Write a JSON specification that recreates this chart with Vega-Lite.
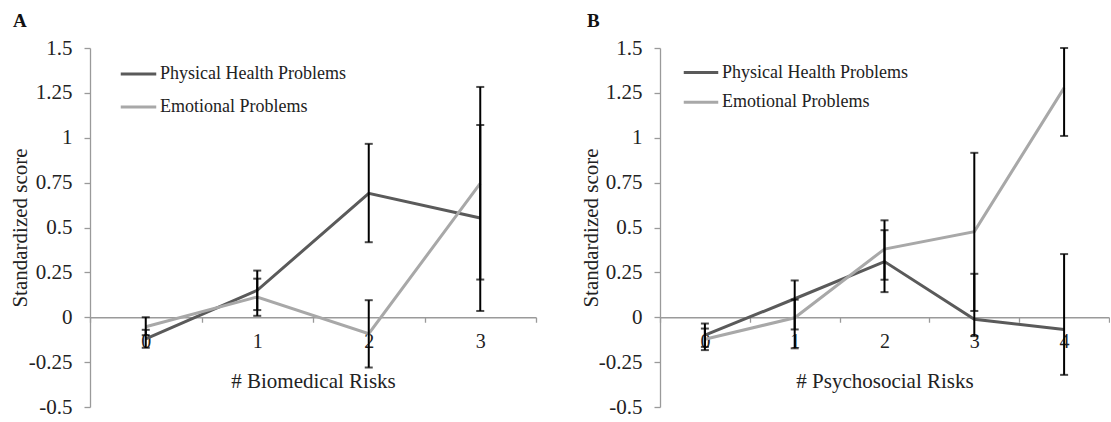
{
  "$schema": "https://vega.github.io/schema/vega-lite/v6.json",
  "background": "white",
  "padding": {"left": 9, "top": 12, "right": 0, "bottom": 5},
  "config": {
    "font": "Times New Roman, Liberation Serif, serif",
    "view": {"stroke": null},
    "axis": {"labelFont": "Times New Roman, Liberation Serif, serif", "titleFont": "Times New Roman, Liberation Serif, serif", "labelColor": "#222222", "titleColor": "#222222", "domainColor": "#9a9a9a", "tickColor": "#9a9a9a", "titleFontWeight": "normal", "grid": false, "domainWidth": 1.3, "tickWidth": 1.3},
    "legend": {"labelFont": "Times New Roman, Liberation Serif, serif", "labelColor": "#222222"}
  },
  "datasets": {
    "d": [
      {"panel": "A", "risk": 0, "series": "Physical Health Problems", "mean": -0.12, "lo": -0.17, "hi": -0.07},
      {"panel": "A", "risk": 1, "series": "Physical Health Problems", "mean": 0.15, "lo": 0.04, "hi": 0.26},
      {"panel": "A", "risk": 2, "series": "Physical Health Problems", "mean": 0.69, "lo": 0.418, "hi": 0.966},
      {"panel": "A", "risk": 3, "series": "Physical Health Problems", "mean": 0.553, "lo": 0.035, "hi": 1.071},
      {"panel": "A", "risk": 0, "series": "Emotional Problems", "mean": -0.053, "lo": -0.1, "hi": 0.0},
      {"panel": "A", "risk": 1, "series": "Emotional Problems", "mean": 0.113, "lo": 0.008, "hi": 0.215},
      {"panel": "A", "risk": 2, "series": "Emotional Problems", "mean": -0.092, "lo": -0.28, "hi": 0.095},
      {"panel": "A", "risk": 3, "series": "Emotional Problems", "mean": 0.746, "lo": 0.21, "hi": 1.283},
      {"panel": "B", "risk": 0, "series": "Physical Health Problems", "mean": -0.1, "lo": -0.165, "hi": -0.035},
      {"panel": "B", "risk": 1, "series": "Physical Health Problems", "mean": 0.103, "lo": -0.068, "hi": 0.205},
      {"panel": "B", "risk": 2, "series": "Physical Health Problems", "mean": 0.31, "lo": 0.14, "hi": 0.485},
      {"panel": "B", "risk": 3, "series": "Physical Health Problems", "mean": -0.011, "lo": -0.105, "hi": 0.242},
      {"panel": "B", "risk": 4, "series": "Physical Health Problems", "mean": -0.068, "lo": -0.321, "hi": 0.352},
      {"panel": "B", "risk": 0, "series": "Emotional Problems", "mean": -0.123, "lo": -0.183, "hi": -0.063},
      {"panel": "B", "risk": 1, "series": "Emotional Problems", "mean": -0.003, "lo": -0.173, "hi": 0.098},
      {"panel": "B", "risk": 2, "series": "Emotional Problems", "mean": 0.38, "lo": 0.209, "hi": 0.54},
      {"panel": "B", "risk": 3, "series": "Emotional Problems", "mean": 0.477, "lo": 0.035, "hi": 0.916},
      {"panel": "B", "risk": 4, "series": "Emotional Problems", "mean": 1.278, "lo": 1.01, "hi": 1.5}
    ]
  },
  "bounds": "flush",
  "spacing": 124,
  "resolve": {"scale": {"color": "independent", "x": "independent", "y": "independent"}, "legend": {"color": "independent"}},
  "hconcat": [
    {
      "width": 446,
      "height": 359,
      "title": {"text": "A", "anchor": "start", "frame": "group", "dx": -77, "fontSize": 19, "fontWeight": "bold", "font": "Times New Roman, Liberation Serif, serif", "color": "#111111", "baseline": "alphabetic", "offset": -9},
      "data": {"name": "d"},
      "transform": [{"filter": "datum.panel == 'A'"}],
      "encoding": {
        "x": {"field": "risk", "type": "ordinal", "scale": {"type": "band", "paddingInner": 0, "paddingOuter": 0},
          "axis": {"title": "# Biomedical Risks", "labelFont": "Times New Roman, Liberation Serif, serif", "titleFont": "Times New Roman, Liberation Serif, serif", "labelAngle": 0, "labelFontSize": 20, "titleFontSize": 21, "tickBand": "extent", "tickSize": 5, "offset": -89.75, "labelPadding": 9, "titleY": 70, "titleBaseline": "alphabetic"}}
      },
      "layer": [
        {
          "mark": {"type": "line", "strokeWidth": 3},
          "encoding": {
            "y": {"field": "mean", "type": "quantitative", "scale": {"domain": [-0.5, 1.5], "nice": false, "zero": false},
              "axis": {"title": "Standardized score", "labelFont": "Times New Roman, Liberation Serif, serif", "titleFont": "Times New Roman, Liberation Serif, serif", "values": [-0.5, -0.25, 0, 0.25, 0.5, 0.75, 1, 1.25, 1.5], "labelExpr": "datum.value + ''", "labelFontSize": 21, "titleFontSize": 21, "tickSize": 6, "labelPadding": 12, "titleX": -64, "titleBaseline": "alphabetic"}},
            "color": {"field": "series", "type": "nominal", "scale": {"domain": ["Physical Health Problems", "Emotional Problems"], "range": ["#5a5a5a", "#a8a8a8"]},
              "legend": {"orient": "none", "legendX": 29, "legendY": 6.5, "title": null, "labelFont": "Times New Roman, Liberation Serif, serif", "symbolType": "stroke", "symbolSize": 1260, "symbolStrokeWidth": 3, "labelFontSize": 18, "labelOffset": 2, "rowPadding": 4, "padding": 0, "labelLimit": 400}}
          }
        },
        {
          "mark": {"type": "rule", "color": "black", "strokeWidth": 2},
          "encoding": {"y": {"field": "lo", "type": "quantitative", "title": "Standardized score"}, "y2": {"field": "hi"}}
        },
        {
          "mark": {"type": "tick", "color": "black", "size": 8, "thickness": 2},
          "encoding": {"y": {"field": "lo", "type": "quantitative", "title": "Standardized score"}}
        },
        {
          "mark": {"type": "tick", "color": "black", "size": 8, "thickness": 2},
          "encoding": {"y": {"field": "hi", "type": "quantitative", "title": "Standardized score"}}
        }
      ]
    },
    {
      "width": 449,
      "height": 359,
      "title": {"text": "B", "anchor": "start", "frame": "group", "dx": -73, "fontSize": 19, "fontWeight": "bold", "font": "Times New Roman, Liberation Serif, serif", "color": "#111111", "baseline": "alphabetic", "offset": -9},
      "data": {"name": "d"},
      "transform": [{"filter": "datum.panel == 'B'"}],
      "encoding": {
        "x": {"field": "risk", "type": "ordinal", "scale": {"type": "band", "paddingInner": 0, "paddingOuter": 0},
          "axis": {"title": "# Psychosocial Risks", "labelFont": "Times New Roman, Liberation Serif, serif", "titleFont": "Times New Roman, Liberation Serif, serif", "labelAngle": 0, "labelFontSize": 20, "titleFontSize": 21, "tickBand": "extent", "tickSize": 5, "offset": -89.75, "labelPadding": 9, "titleY": 70, "titleBaseline": "alphabetic"}}
      },
      "layer": [
        {
          "mark": {"type": "line", "strokeWidth": 3},
          "encoding": {
            "y": {"field": "mean", "type": "quantitative", "scale": {"domain": [-0.5, 1.5], "nice": false, "zero": false},
              "axis": {"title": "Standardized score", "labelFont": "Times New Roman, Liberation Serif, serif", "titleFont": "Times New Roman, Liberation Serif, serif", "values": [-0.5, -0.25, 0, 0.25, 0.5, 0.75, 1, 1.25, 1.5], "labelExpr": "datum.value + ''", "labelFontSize": 21, "titleFontSize": 21, "tickSize": 6, "labelPadding": 12, "titleX": -63, "titleBaseline": "alphabetic"}},
            "color": {"field": "series", "type": "nominal", "scale": {"domain": ["Physical Health Problems", "Emotional Problems"], "range": ["#5a5a5a", "#a8a8a8"]},
              "legend": {"orient": "none", "legendX": 22, "legendY": 5.5, "title": null, "labelFont": "Times New Roman, Liberation Serif, serif", "symbolType": "stroke", "symbolSize": 1190, "symbolStrokeWidth": 3, "labelFontSize": 18, "labelOffset": 2, "rowPadding": 1.8, "padding": 0, "labelLimit": 400}}
          }
        },
        {
          "mark": {"type": "rule", "color": "black", "strokeWidth": 2},
          "encoding": {"y": {"field": "lo", "type": "quantitative", "title": "Standardized score"}, "y2": {"field": "hi"}}
        },
        {
          "mark": {"type": "tick", "color": "black", "size": 8, "thickness": 2},
          "encoding": {"y": {"field": "lo", "type": "quantitative", "title": "Standardized score"}}
        },
        {
          "mark": {"type": "tick", "color": "black", "size": 8, "thickness": 2},
          "encoding": {"y": {"field": "hi", "type": "quantitative", "title": "Standardized score"}}
        }
      ]
    }
  ]
}
